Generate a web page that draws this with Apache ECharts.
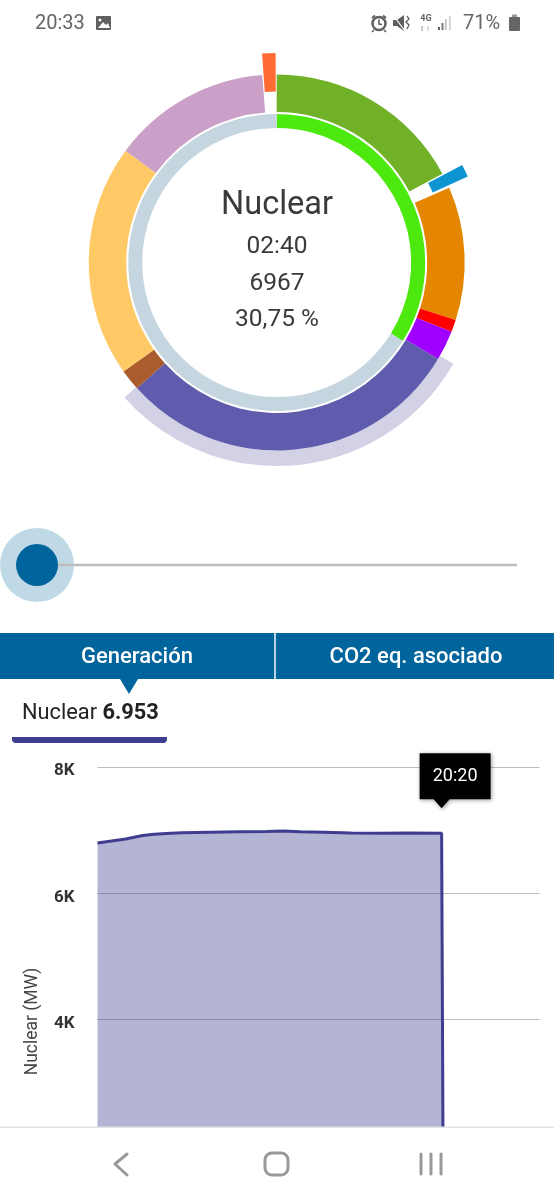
<!DOCTYPE html>
<html><head><meta charset="utf-8">
<style>html,body{margin:0;padding:0;background:#fff}#c{width:554px;height:1200px}</style>
<script src="https://cdn.jsdelivr.net/npm/echarts@6/dist/echarts.min.js"></script>
</head><body><div id="c"></div>
<script>
const FONT = 'Roboto';
// outer ring, clockwise from the top (MW); the two gap entries hold the sources drawn as outside ticks
const ringValues = [3890, 302, 2593, 239, 585, 6740, 417, 4525, 3090, 277];
const ringColors = ['#70B128', 'none', '#E58600', '#FF0000', '#A000FF', '#5F5CAD', '#AB5C2F', '#FFC966', '#CBA0C8', 'none'];
const tickValues = [3921, 220, 18265, 233, 19];
const tickColors = ['none', '#0F94D2', 'none', '#FF6B35', 'none'];
const innerValues = [7670, 14988];
const innerColors = ['#4CE80E', '#C6D6E0'];
const highlightValues = [7540, 6837, 8281];
const highlightColors = ['none', '#D2D1E6', 'none'];
// area chart
const minutes = [0, 100, 160, 200, 260, 300, 400, 500, 600, 660, 720, 800, 900, 1000, 1100, 1220, 1225];
const nuclear = [6797, 6860, 6915, 6935, 6950, 6960, 6968, 6975, 6978, 6985, 6975, 6968, 6955, 6950, 6955, 6953, 2000];
const yTicks = { min: 2000, max: 8000, interval: 2000 };
const xMax = 1567;

const slices = (vals, cols) => vals.map((v, i) => ({ value: v, itemStyle: { color: cols[i] } }));
const pie = (radius, data, z) => ({
  type: 'pie', center: [276.7, 262.5], radius, startAngle: 90, clockwise: true, silent: true,
  label: { show: false }, labelLine: { show: false }, z, animation: false, data
});
const txt = (text, x, y, size, color, align = 'center', weight = 'normal', extra = {}) => ({
  type: 'text', x, y, z: 110,
  style: Object.assign({ text, fill: color, font: weight + ' ' + size + 'px ' + FONT, align, verticalAlign: 'middle' }, extra)
});
const navLine = { stroke: '#999999', lineWidth: 3, fill: 'none', lineCap: 'round', lineJoin: 'round' };

const graphics = [
  // status bar
  txt('20:33', 35, 24, 20, '#666666', 'left'),
  { type: 'rect', shape: { x: 96, y: 16, width: 15, height: 14, r: 1 }, style: { fill: '#5f5f5f' } },
  { type: 'polygon', shape: { points: [[98, 28], [103, 22], [106, 25], [108, 23], [110, 28]] }, style: { fill: '#fff' } },
  { type: 'circle', shape: { cx: 100, cy: 20, r: 1.5 }, style: { fill: '#fff' } },
  { type: 'circle', shape: { cx: 379, cy: 23.5, r: 6.5 }, style: { fill: '#fff', stroke: '#5f5f5f', lineWidth: 2.5 } },
  { type: 'polyline', shape: { points: [[379, 19.5], [379, 24], [382, 24.5]] }, style: { stroke: '#5f5f5f', lineWidth: 1.6, fill: 'none' } },
  { type: 'line', shape: { x1: 372, y1: 18, x2: 375, y2: 15.5 }, style: { stroke: '#5f5f5f', lineWidth: 2 } },
  { type: 'line', shape: { x1: 383, y1: 15.5, x2: 386, y2: 18 }, style: { stroke: '#5f5f5f', lineWidth: 2 } },
  { type: 'line', shape: { x1: 374, y1: 30, x2: 372, y2: 32 }, style: { stroke: '#5f5f5f', lineWidth: 1.6 } },
  { type: 'line', shape: { x1: 384, y1: 30, x2: 386, y2: 32 }, style: { stroke: '#5f5f5f', lineWidth: 1.6 } },
  { type: 'polygon', shape: { points: [[393, 20], [397, 20], [404, 15], [404, 31], [397, 26], [393, 26]] }, style: { fill: '#5f5f5f' } },
  { type: 'line', shape: { x1: 393, y1: 15, x2: 405, y2: 31 }, style: { stroke: '#fff', lineWidth: 1.2 } },
  { type: 'polyline', shape: { points: [[407, 16], [409, 19], [406, 22], [409, 25], [407, 29]] }, style: { stroke: '#5f5f5f', lineWidth: 1.3, fill: 'none' } },
  txt('4G', 426, 19, 9, '#666666', 'center', 'bold'),
  { type: 'polyline', shape: { points: [[422, 26], [422, 31]] }, style: { stroke: '#aaa', lineWidth: 1.3 } },
  { type: 'polyline', shape: { points: [[428, 26], [428, 31]] }, style: { stroke: '#ccc', lineWidth: 1.3 } },
  { type: 'rect', shape: { x: 438, y: 27, width: 2, height: 3 }, style: { fill: '#5f5f5f' } },
  { type: 'rect', shape: { x: 441.5, y: 23, width: 2, height: 7 }, style: { fill: '#777' } },
  { type: 'rect', shape: { x: 445, y: 19, width: 1.6, height: 11 }, style: { fill: '#bbb' } },
  { type: 'rect', shape: { x: 449, y: 16, width: 1.6, height: 14 }, style: { fill: '#ccc' } },
  txt('71%', 463, 24, 20, '#666666', 'left'),
  { type: 'rect', shape: { x: 509, y: 17, width: 11, height: 14, r: 1 }, style: { fill: '#666' } },
  { type: 'rect', shape: { x: 512, y: 14.5, width: 5, height: 2.5 }, style: { fill: '#999' } },
  // donut centre
  txt('Nuclear', 277, 206, 32.5, '#3a3a3a'),
  txt('02:40', 277, 247, 24.5, '#3a3a3a'),
  txt('6967', 277, 284, 24.5, '#3a3a3a'),
  txt('30,75 %', 277, 320, 24.5, '#3a3a3a'),
  // slider
  { type: 'circle', shape: { cx: 37, cy: 565, r: 37 }, style: { fill: '#BFD9E6' } },
  { type: 'line', shape: { x1: 50, y1: 565, x2: 517, y2: 565 }, style: { stroke: '#BDBDBD', lineWidth: 2.5 } },
  { type: 'circle', shape: { cx: 37, cy: 565, r: 21 }, style: { fill: '#00659C' } },
  // tabs
  { type: 'rect', shape: { x: 0, y: 633, width: 554, height: 46 }, style: { fill: '#00659C' } },
  { type: 'rect', shape: { x: 274, y: 633, width: 2, height: 46 }, style: { fill: '#B8D3E3' } },
  { type: 'polygon', shape: { points: [[120, 679], [138, 679], [129, 694]] }, style: { fill: '#00659C' } },
  txt('Generación', 137, 657, 22, '#ffffff', 'center', '500'),
  txt('CO2 eq. asociado', 416, 657, 22, '#ffffff', 'center', '500'),
  // selected source
  { type: 'text', x: 22, y: 714, z: 110, style: {
      text: '{a|Nuclear }{b|6.953}', align: 'left', verticalAlign: 'middle',
      rich: { a: { font: 'normal 21.8px ' + FONT, fill: '#222222' }, b: { font: 'bold 21.8px ' + FONT, fill: '#222222' } } } },
  { type: 'rect', shape: { x: 12, y: 737, width: 155, height: 6, r: [0, 0, 4, 4] }, style: { fill: '#3F3D8F' } },
  // navigation bar
  { type: 'rect', z: 100, shape: { x: 0, y: 1127, width: 554, height: 73 }, style: { fill: '#ffffff' } },
  { type: 'rect', z: 100, shape: { x: 0, y: 1126.5, width: 554, height: 1.5 }, style: { fill: '#E3E3E3' } },
  { type: 'polyline', z: 101, shape: { points: [[127, 1154], [115, 1164], [127, 1175]] }, style: navLine },
  { type: 'rect', z: 101, shape: { x: 265, y: 1153, width: 23, height: 22, r: 7 }, style: navLine },
  { type: 'line', z: 101, shape: { x1: 421, y1: 1154, x2: 421, y2: 1174 }, style: navLine },
  { type: 'line', z: 101, shape: { x1: 431, y1: 1154, x2: 431, y2: 1174 }, style: navLine },
  { type: 'line', z: 101, shape: { x1: 441, y1: 1154, x2: 441, y2: 1174 }, style: navLine }
];

const chart = echarts.init(document.getElementById('c'), null, { width: 554, height: 1200, renderer: 'canvas' });
chart.setOption({
  animation: false,
  backgroundColor: '#ffffff',
  textStyle: { fontFamily: FONT },
  grid: { left: 97.5, width: 442, top: 767, height: 379 },
  xAxis: { type: 'value', min: 0, max: xMax, show: false },
  yAxis: {
    type: 'value', min: yTicks.min, max: yTicks.max, interval: yTicks.interval,
    name: 'Nuclear (MW)', nameLocation: 'middle', nameGap: 56,
    nameTextStyle: { fontFamily: FONT, fontSize: 17.5, color: '#444444', padding: [0, 130, 0, 0] },
    axisLine: { show: false }, axisTick: { show: false },
    axisLabel: {
      margin: 23, fontFamily: FONT, fontSize: 17, fontWeight: 'bold', color: '#333333',
      verticalAlign: 'top', lineHeight: 8,
      formatter: v => v >= 4000 ? (v / 1000) + 'K' : ''
    },
    splitLine: { lineStyle: { color: '#BDBDBD', width: 1.2 } }
  },
  graphic: { elements: graphics },
  series: [
    pie([188, 203.5], slices(highlightValues, highlightColors), 1),
    pie([150.5, 188], slices(ringValues, ringColors), 2),
    pie([171, 209.5], slices(tickValues, tickColors), 3),
    pie([134.5, 148.5], slices(innerValues, innerColors), 2),
    {
      type: 'line', data: minutes.map((m, i) => [m, nuclear[i]]), showSymbol: false, silent: true,
      lineStyle: { color: '#3F3D8F', width: 3 }, itemStyle: { color: '#3F3D8F' },
      areaStyle: { color: '#3F3D8F', opacity: 0.39, origin: 'start' }, z: 2,
      markPoint: {
        silent: true, animation: false,
        data: [{ coord: [minutes[15], nuclear[15]] }],
        symbol: 'path://M0 0H71V46H30L22 55L14 46H0Z',
        symbolSize: [71, 55], symbolOffset: [13.5, -52.5], symbolKeepAspect: false,
        itemStyle: { color: '#000000', shadowColor: 'rgba(0,0,0,0.4)', shadowBlur: 4, shadowOffsetX: 1, shadowOffsetY: 1 },
        label: { show: true, position: 'inside', offset: [0, -4.5], formatter: '20:20', color: '#ffffff', fontFamily: FONT, fontSize: 18 }
      }
    }
  ]
});
</script></body></html>
